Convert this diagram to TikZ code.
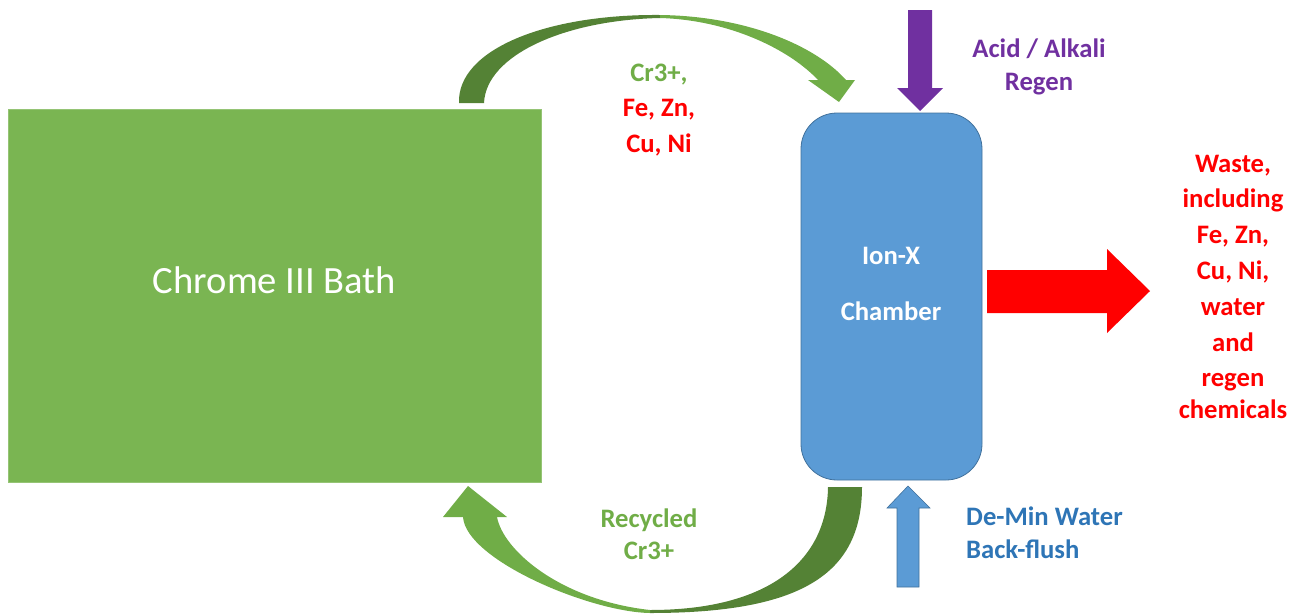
\documentclass[tikz,border=0pt]{standalone}
\usepackage{fontspec}
\setmainfont{Carlito}
\definecolor{bathgreen}{HTML}{7AB552}
\definecolor{lightgreen}{HTML}{70AD47}
\definecolor{darkgreen}{HTML}{548235}
\definecolor{chamberblue}{HTML}{5B9BD5}
\definecolor{chamberedge}{HTML}{41719C}
\definecolor{textblue}{HTML}{2E75B6}
\definecolor{regenpurple}{HTML}{7030A0}
\definecolor{wastered}{HTML}{FF0000}
\begin{document}
\begin{tikzpicture}[x=1pt,y=-1pt,
  lbl/.style={font=\fontsize{26.67}{32}\selectfont\bfseries, inner sep=0pt, anchor=base},
  redlbl/.style={lbl, text=wastered},
  greenlbl/.style={lbl, text=lightgreen},
  purplelbl/.style={lbl, text=regenpurple},
  bluelbl/.style={lbl, text=textblue, anchor=base west},
  whitelbl/.style={lbl, text=white},
  blockarrow/.style={draw=none}
]
\useasboundingbox (0,0) rectangle (1302,614);

% Chrome III bath
\node (bath) [fill=bathgreen, draw=bathgreen!80!white, line width=0.6pt, minimum width=533pt, minimum height=373pt, inner sep=0pt] at (274.5,295.5) {};
\node (bathlbl) [font=\fontsize{38.6}{46}\selectfont, text=white, inner sep=0pt, anchor=base] at (274.5,293) {Chrome III Bath};

% Ion-X chamber
\node (ionx) [fill=chamberblue, draw=chamberedge, line width=0.8pt, rounded corners=36pt, minimum width=181pt, minimum height=367pt, inner sep=0pt] at (891.5,296.5) {};
\node (ionx1) [whitelbl] at (891,264) {Ion-X};
\node (ionx2) [whitelbl] at (891,320) {Chamber};

% top curved arrow (bath -> chamber)
\fill[darkgreen] (459,103) .. controls (457,50) and (545,14) .. (660,15)
  -- (660,18) .. controls (565,20) and (486,55) .. (484,103) -- cycle;
\fill[lightgreen] (660,15) .. controls (745,16) and (815,45) .. (846,80)
  -- (855,80) -- (839,102) -- (808,80) -- (818,80)
  .. controls (790,50) and (730,20) .. (660,18) -- cycle;

% bottom curved arrow (chamber -> bath)
\fill[darkgreen] (862,487) .. controls (862,575) and (800,613) .. (650,613)
  -- (650,610) .. controls (770,610) and (827,560) .. (828,487) -- cycle;
\fill[lightgreen] (650,613) .. controls (590,612) and (466,560) .. (463,517)
  -- (443,517) -- (468,486) -- (507,517) -- (497,517)
  .. controls (503,550) and (560,600) .. (650,610) -- cycle;

% acid / alkali arrow
\fill[regenpurple] (908,10) -- (932,10) -- (932,88) -- (943,88) -- (920,111) -- (897,88) -- (908,88) -- cycle;

% de-min water arrow
\filldraw[fill=chamberblue, draw=chamberedge, line width=0.6pt] (897,587) -- (919,587) -- (919,508) -- (930,508) -- (908,486) -- (887,508) -- (897,508) -- cycle;

% waste arrow
\fill[wastered] (987,270) -- (1107,270) -- (1107,249) -- (1150,291) -- (1107,333) -- (1107,313) -- (987,313) -- cycle;

% labels
\node (t1) [greenlbl] at (659,81) {Cr3+,};
\node (t2) [redlbl] at (659,116) {Fe, Zn,};
\node (t3) [redlbl] at (659,152) {Cu, Ni};

\node (r1) [greenlbl] at (649,527) {Recycled};
\node (r2) [greenlbl] at (649,559) {Cr3+};

\node (a1) [purplelbl] at (1039,57) {Acid / Alkali};
\node (a2) [purplelbl] at (1039,90) {Regen};

\node (d1) [bluelbl] at (966,525) {De-Min Water};
\node (d2) [bluelbl] at (966,558) {Back-flush};

\node (w1) [redlbl] at (1233,172) {Waste,};
\node (w2) [redlbl] at (1233,207) {including};
\node (w3) [redlbl] at (1233,243) {Fe, Zn,};
\node (w4) [redlbl] at (1233,279) {Cu, Ni,};
\node (w5) [redlbl] at (1233,315) {water};
\node (w6) [redlbl] at (1233,351) {and};
\node (w7) [redlbl] at (1233,386) {regen};
\node (w8) [redlbl] at (1233,418) {chemicals};
\end{tikzpicture}
\end{document}
